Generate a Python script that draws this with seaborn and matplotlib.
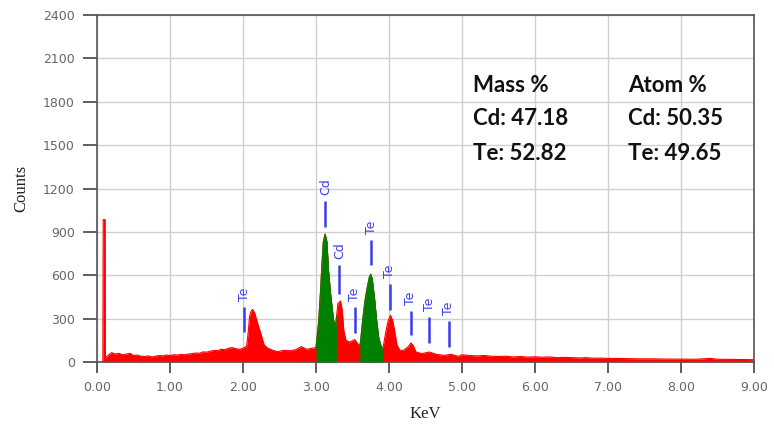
import matplotlib
matplotlib.use("Agg")
import matplotlib.pyplot as plt
import seaborn as sns
import numpy as np
import pandas as pd

# ---- data ----
energy_kev = [0.08, 0.085, 0.11, 0.115, 0.15, 0.20, 0.25, 0.30, 0.35, 0.40, 0.45, 0.50,
              0.55, 0.60, 0.65, 0.70, 0.75, 0.80, 0.85, 0.90, 0.95, 1.00, 1.05, 1.10,
              1.15, 1.20, 1.25, 1.30, 1.35, 1.40, 1.45, 1.50, 1.55, 1.60, 1.65, 1.70,
              1.75, 1.80, 1.85, 1.90, 1.95, 2.00, 2.05, 2.07, 2.09, 2.11, 2.13, 2.16,
              2.20, 2.25, 2.29, 2.34, 2.40, 2.47, 2.55, 2.65, 2.72, 2.80, 2.87, 2.95,
              3.00, 3.035, 3.06, 3.08, 3.10, 3.125, 3.15, 3.17, 3.20, 3.24, 3.27, 3.28,
              3.30, 3.335, 3.36, 3.38, 3.41, 3.46, 3.53, 3.57, 3.60, 3.61, 3.64, 3.67,
              3.70, 3.73, 3.75, 3.77, 3.80, 3.83, 3.86, 3.90, 3.92, 3.96, 3.99, 4.02,
              4.05, 4.08, 4.11, 4.15, 4.20, 4.26, 4.30, 4.33, 4.37, 4.45, 4.55, 4.65,
              4.75, 4.85, 4.95, 5.00, 5.10, 5.20, 5.30, 5.40, 5.50, 5.60, 5.70, 5.80,
              5.90, 6.00, 6.10, 6.20, 6.30, 6.40, 6.50, 6.60, 6.70, 6.80, 6.90, 7.00,
              7.20, 7.40, 7.60, 7.80, 8.00, 8.20, 8.40, 8.50, 8.70, 8.90, 9.00]
counts = [0, 985, 985, 30, 45, 65, 55, 60, 50, 55, 60, 45,
          48, 40, 38, 42, 35, 40, 45, 42, 48, 45, 50, 48,
          52, 50, 55, 58, 62, 60, 70, 68, 75, 80, 78, 88,
          85, 95, 100, 92, 88, 95, 110, 200, 313, 350, 364, 340,
          268, 187, 118, 95, 83, 71, 80, 78, 85, 106, 88, 95,
          100, 270, 470, 660, 830, 884, 830, 640, 470, 290, 250, 310,
          404, 422, 358, 220, 150, 138, 155, 127, 110, 140, 290, 420,
          510, 585, 607, 575, 450, 290, 165, 95, 104, 219, 288, 323,
          288, 208, 115, 81, 81, 104, 132, 115, 69, 58, 69, 53,
          46, 53, 39, 50, 45, 42, 45, 40, 38, 40, 35, 38,
          34, 36, 33, 35, 30, 32, 30, 28, 30, 26, 27, 25,
          24, 22, 22, 20, 20, 19, 25, 19, 18, 17, 16]

cd_window = (3.00, 3.28)
te_window = (3.60, 3.92)

marker_element = ["Te", "Cd", "Cd", "Te", "Te", "Te", "Te", "Te", "Te"]
marker_kev = [2.02, 3.13, 3.32, 3.53, 3.76, 4.01, 4.30, 4.55, 4.82]
marker_low = [208, 935, 473, 200, 669, 358, 185, 131, 104]
marker_high = [381, 1115, 669, 381, 847, 542, 353, 312, 284]

mass_pct = {"Cd": "47.18", "Te": "52.82"}
atom_pct = {"Cd": "50.35", "Te": "49.65"}

y_ticks = [0, 300, 600, 900, 1200, 1500, 1800, 2100, 2400]
x_ticks = [0, 1, 2, 3, 4, 5, 6, 7, 8, 9]

# ---- figure ----
sns.set_theme(style="white")
plt.rcParams['font.family'] = ['DejaVu Sans']

fig = plt.figure(figsize=(7.74, 4.26), dpi=100)
ax = fig.add_axes([97 / 774, 1 - 362 / 426, (754 - 97) / 774, (362 - 15) / 426])

df = pd.DataFrame({"KeV": energy_kev, "Counts": counts})
e = df["KeV"].to_numpy()
c = df["Counts"].to_numpy()

ax.fill_between(e, 0, c, color="#ff0000", lw=0, zorder=2)
sns.lineplot(data=df, x="KeV", y="Counts", ax=ax, color="#ff0000", lw=0.8, zorder=3,
             sort=False, estimator=None)
for lo, hi in (cd_window, te_window):
    m = (e >= lo) & (e <= hi)
    ax.fill_between(e[m], 0, c[m], color="#008000", lw=0, zorder=4)
    ax.plot(e[m], c[m], color="#008000", lw=0.8, zorder=4)

for el, k, lo, hi in zip(marker_element, marker_kev, marker_low, marker_high):
    ax.plot([k, k], [lo, hi], color="#3c3cf0", lw=1.8, zorder=5, solid_capstyle="butt")
    ax.text(k, hi + 40, el, rotation=90, ha="center", va="bottom",
            fontsize=9, color="#3c3cf0", zorder=5)

ax.set_xlim(0, 9)
ax.set_ylim(0, 2400)
ax.set_xticks(x_ticks)
ax.set_xticklabels([f"{v:.2f}" for v in x_ticks])
ax.set_yticks(y_ticks)
ax.set_yticklabels([str(v) for v in y_ticks])
ax.grid(True, color="#d0d0d0", lw=1, zorder=0)
ax.set_axisbelow(True)
for s in ax.spines.values():
    s.set_color("#555555")
    s.set_linewidth(1.2)
ax.tick_params(axis="both", direction="out", length=8, width=1.2, color="#444444",
               labelsize=9, labelcolor="#666666", bottom=True, left=True)
ax.tick_params(axis="y", length=10, pad=6)
ax.tick_params(axis="x", pad=6)

ax.set_xlabel("KeV", family="Liberation Serif", fontsize=12, color="#222222", labelpad=8)
ax.set_ylabel("Counts", family="Liberation Serif", fontsize=12, color="#222222", labelpad=10)

tfont = dict(family="Lato", fontweight="bold", fontsize=16, color="#111111",
             ha="left", va="center", transform=fig.transFigure)
rows_y = [86, 119, 153]
fig.text(473 / 774, 1 - rows_y[0] / 426, "Mass %", **tfont)
fig.text(628 / 774, 1 - rows_y[0] / 426, "Atom %", **tfont)
for i, el in enumerate(["Cd", "Te"]):
    fig.text(473 / 774, 1 - rows_y[i + 1] / 426, f"{el}: {mass_pct[el]}", **tfont)
    fig.text(628 / 774, 1 - rows_y[i + 1] / 426, f"{el}: {atom_pct[el]}", **tfont)

fig.savefig("out.png", dpi=100)
